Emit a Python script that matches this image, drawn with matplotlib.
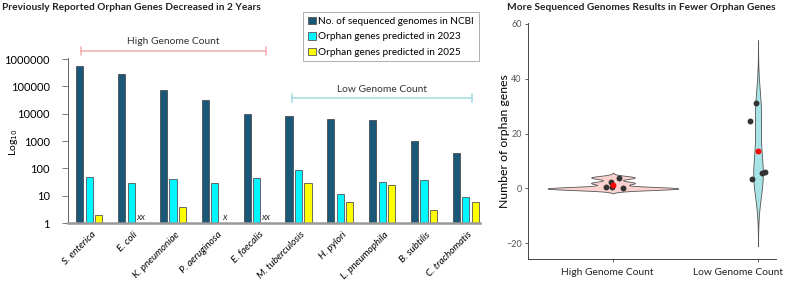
import numpy as np
import matplotlib
matplotlib.use("Agg")
import matplotlib.pyplot as plt
from matplotlib.patches import Patch
from matplotlib.transforms import blended_transform_factory

plt.rcParams['font.family'] = ['Lato', 'DejaVu Sans']

# ---- data ----
species = ["S. enterica", "E. coli", "K. pneumoniae", "P. aeruginosa", "E. faecalis",
           "M. tuberculosis", "H. pylori", "L. pneumophila", "B. subtilis", "C. trachomatis"]
genomes_ncbi = [540000, 283000, 74000, 31600, 9500, 8000, 6200, 5800, 1030, 355]
orphans_2023 = [50, 28, 40, 28, 44, 85, 12, 31, 36, 9]
orphans_2025 = [2, 0, 4, 0, 0, 30, 6, 24, 3, 6]   # 0 = none left (shown as x / xx)
missing_marks = ["", "xx", "", "x", "xx", "", "", "", "", ""]

groups = ["High Genome Count", "Low Genome Count"]
high_vals = orphans_2025[:5]
low_vals = orphans_2025[5:]

dark = "#1b5878"
cyan = "#00f7ff"
yellow = "#ffff00"

fig = plt.figure(figsize=(7.85, 2.82), dpi=100)

# ---------------- left: bar chart ----------------
ax = fig.add_axes([68/785, 1-223/282, 412/785, 165/282])
x = np.arange(len(species))
off, w = 0.227, 0.17
ax.bar(x - off, genomes_ncbi, w, color=dark, edgecolor="#3a3a3a", linewidth=0.5,
       label="No. of sequenced genomes in NCBI")
ax.bar(x, orphans_2023, w, color=cyan, edgecolor="#555555", linewidth=0.6,
       label="Orphan genes predicted in 2023")
y25 = [v if v > 0 else np.nan for v in orphans_2025]
ax.bar(x + off, y25, w, color=yellow, edgecolor="#555555", linewidth=0.6,
       label="Orphan genes predicted in 2025")
for xi, m in zip(x, missing_marks):
    if m:
        ax.text(xi + off, 1.08, m, ha="center", va="bottom", fontsize=7,
                style="italic", color="#333333")

ax.set_yscale("log")
ax.set_ylim(1, 1.09e6)
ax.set_xlim(-0.51, 9.34)
ax.set_yticks([1, 10, 100, 1000, 10000, 100000, 1000000])
ax.set_yticklabels(["1", "10", "100", "1000", "10000", "100000", "1000000"])
ax.yaxis.set_minor_locator(matplotlib.ticker.NullLocator())
ax.set_xticks(x + 0.05)
ax.set_xticklabels(species, rotation=45, ha="right", rotation_mode="anchor",
                   style="italic", fontsize=7.1)
ax.tick_params(axis="y", labelsize=8, length=4, width=0.6, color="#666666", pad=9)
ax.tick_params(axis="x", length=0, pad=5)
for s in ["top", "right"]:
    ax.spines[s].set_visible(False)
ax.spines["left"].set_color("#666666")
ax.spines["left"].set_linewidth(0.7)
ax.spines["bottom"].set_color("#9a9a9a")
ax.spines["bottom"].set_linewidth(1.8)
fig.text(14/785, 1-142/282, "Log$_{10}$", rotation=90, ha="center", va="center", fontsize=7.5)

# range brackets
tr = blended_transform_factory(ax.transData, fig.transFigure)
ax.annotate("", xy=(-0.275, 1-51/282), xytext=(4.29, 1-51/282), xycoords=tr,
            arrowprops=dict(arrowstyle="|-|,widthA=0.3,widthB=0.3", color="#f4b4b4", lw=1.2),
            annotation_clip=False)
ax.text(2.0, 1-42/282, "High Genome Count", transform=tr, ha="center", va="center",
        fontsize=7.4, color="#333333")
ax.annotate("", xy=(4.77, 1-98/282), xytext=(9.22, 1-98/282), xycoords=tr,
            arrowprops=dict(arrowstyle="|-|,widthA=0.3,widthB=0.3", color="#a9dbe2", lw=1.2),
            annotation_clip=False)
ax.text(7.0, 1-89/282, "Low Genome Count", transform=tr, ha="center", va="center",
        fontsize=7.4, color="#333333")

handles = [Patch(facecolor=dark, edgecolor="#555555", linewidth=0.6),
           Patch(facecolor=cyan, edgecolor="#555555", linewidth=0.6),
           Patch(facecolor=yellow, edgecolor="#555555", linewidth=0.6)]
labels = ["No. of sequenced genomes in NCBI", "Orphan genes predicted in 2023",
          "Orphan genes predicted in 2025"]
leg = fig.legend(handles, labels, loc="upper left", bbox_to_anchor=(303/785, 1-12/282),
                 fontsize=7.2, frameon=True, fancybox=False, edgecolor="#9a9a9a",
                 handlelength=0.8, handleheight=0.8, handletextpad=0.3,
                 labelspacing=0.62, borderpad=0.45, borderaxespad=0)
leg.get_frame().set_linewidth(0.7)

fig.text(2/785, 1-7/282, "Previously Reported Orphan Genes Decreased in 2 Years",
         ha="left", va="center", fontsize=7.3, fontweight="bold", color="#222222")

# ---------------- right: violin + jitter ----------------
ax2 = fig.add_axes([528/785, 1-259.3/282, 248/785, 236.3/282])


def kde(vals, adjust):
    v = np.asarray(vals, float)
    sd = v.std(ddof=1)
    q1, q3 = np.percentile(v, [25, 75])
    bw = 0.9 * min(sd, (q3 - q1) / 1.34) * len(v) ** -0.2 * adjust
    ys = np.linspace(v.min() - 3 * bw, v.max() + 3 * bw, 400)
    d = np.exp(-0.5 * ((ys[:, None] - v[None, :]) / bw) ** 2).sum(1) / (len(v) * bw * np.sqrt(2 * np.pi))
    return ys, d


dens = [kde(high_vals, 0.6), kde(low_vals, 1.0)]
dmax = max(d.max() for _, d in dens)
fills = ["#fcd2d0", "#a7e4e8"]
for pos, (ys, d), fc in zip([1, 2], dens, fills):
    half = 0.45 * d / dmax
    ax2.fill_betweenx(ys, pos - half, pos + half, facecolor=fc, edgecolor="#555555", linewidth=0.6)

jit_x = [[-0.014, -0.007, 0.04, -0.048, 0.07], [-0.014, 0.03, -0.055, -0.04, 0.05]]
jit_y = [[0.5, 0.5, -0.2, 0.5, 0.3], [1.3, -0.3, 0.5, 0.5, 0.0]]
for pos, vals, jx, jy in zip([1, 2], [high_vals, low_vals], jit_x, jit_y):
    ax2.scatter(pos + np.array(jx), np.array(vals) + np.array(jy), s=18, color="#333333",
                zorder=3, linewidths=0)
    ax2.scatter([pos], [np.mean(vals)], s=18, color="#ff0000", zorder=4, linewidths=0)

ax2.set_xlim(0.414, 2.124)
ax2.set_ylim(-25.8, 60.3)
ax2.set_xticks([1, 2])
ax2.set_xticklabels([])
# category labels sit a little left of the violins in the reference
trx = blended_transform_factory(ax2.transData, ax2.transAxes)
for pos, lab, dx in zip([1, 2], groups, [-0.04, -0.135]):
    ax2.text(pos + dx, -0.035, lab, transform=trx, ha="center", va="top",
             fontsize=7.4, color="#222222")
ax2.set_yticks([-20, 0, 20, 40, 60])
ax2.tick_params(axis="y", labelsize=6.5, labelcolor="#555555", length=2.5, width=0.6,
                color="#444444", pad=2)
ax2.tick_params(axis="x", length=2.5, width=0.6, color="#444444")
for s in ["top", "right"]:
    ax2.spines[s].set_visible(False)
for s in ["left", "bottom"]:
    ax2.spines[s].set_color("#444444")
    ax2.spines[s].set_linewidth(0.7)
ax2.set_ylabel("Number of orphan genes", fontsize=8.8, labelpad=-3)

fig.text(776/785, 1-7/282, "More Sequenced Genomes Results in Fewer Orphan Genes",
         ha="right", va="center", fontsize=7.3, fontweight="bold", color="#222222")

fig.savefig("out.png", dpi=100)
